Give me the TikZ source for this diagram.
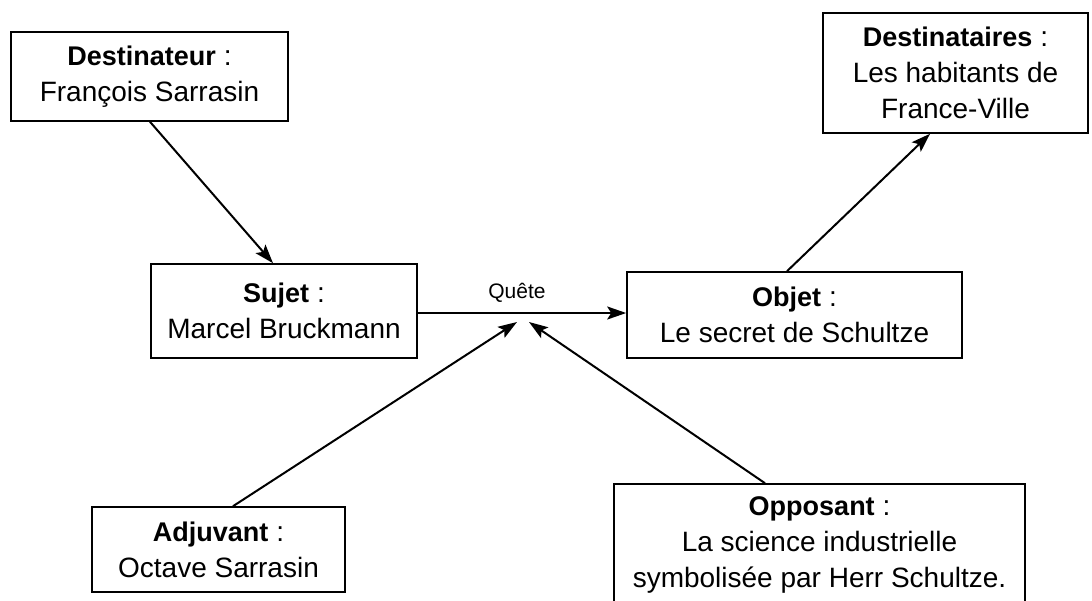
\documentclass[tikz,border=0pt]{standalone}
\usepackage{fontspec}
\setmainfont{Liberation Sans}
\usetikzlibrary{arrows.meta}
\newcommand\hd[1]{{\fontsize{27}{36}\selectfont\bfseries #1}}
\begin{document}
\begin{tikzpicture}[x=1pt,y=-1pt,
  box/.style={draw, line width=1.6pt, rectangle, inner sep=0pt, align=center, font=\fontsize{28}{36}\selectfont},
  arr/.style={line width=2pt, -{Stealth[length=19pt,width=13pt,inset=4pt]}}]
\useasboundingbox (0,0) rectangle (1092,600);
\node[box, minimum width=277pt, minimum height=89pt] (dest) at (149.5,76.5) {\hd{Destinateur} :\\François Sarrasin};
\node[box, minimum width=265pt, minimum height=120pt] (dests) at (955.5,73) {\hd{Destinataires} :\\Les habitants de\\France-Ville};
\node[box, minimum width=266pt, minimum height=94pt] (suj) at (284,311) {\hd{Sujet} :\\Marcel Bruckmann};
\node[box, minimum width=335pt, minimum height=86pt] (obj) at (794.5,315) {\hd{Objet} :\\Le secret de Schultze};
\node[box, minimum width=253pt, minimum height=85pt] (adj) at (218.5,549.5) {\hd{Adjuvant} :\\Octave Sarrasin};
\node[box, minimum width=411pt, minimum height=122pt] (opp) at (819.5,545) {\hd{Opposant} :\\La science industrielle\\symbolisée par Herr Schultze.};
\coordinate (tA) at (517,322);
\coordinate (tO) at (529,322);
\draw[arr] (suj.east |- 0,313) -- (obj.west |- 0,313);
\node[font=\fontsize{21}{24}\selectfont] (q) at (517,293) {Quête};
\draw[arr] (dest.south -| 150,0) -- (suj.north -| 273,0);
\draw[arr] (obj.north -| 787,0) -- (dests.south -| 930,0);
\draw[arr] (adj.north -| 233,0) -- (tA);
\draw[arr] (opp.north -| 765,0) -- (tO);
\end{tikzpicture}
\end{document}
